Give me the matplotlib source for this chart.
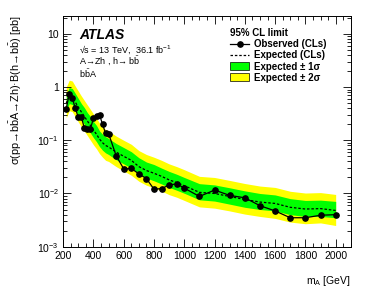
import numpy as np
import matplotlib
matplotlib.use('Agg')
import matplotlib.pyplot as plt
from matplotlib.lines import Line2D
from matplotlib.patches import Patch
from matplotlib.ticker import MultipleLocator, LogLocator, NullFormatter

plt.rcParams['font.family'] = ['Liberation Sans', 'DejaVu Sans']
plt.rcParams['mathtext.fontset'] = 'custom'
plt.rcParams['mathtext.rm'] = 'Liberation Sans'
plt.rcParams['mathtext.it'] = 'Liberation Sans:italic'
plt.rcParams['mathtext.bf'] = 'Liberation Sans:bold'

# mass points (GeV)
mass = [220, 240, 260, 280, 300, 320, 340, 360, 380, 400, 420, 440, 460, 480, 500,
        550, 600, 650, 700, 750, 800, 850, 900, 950, 1000,
        1100, 1200, 1300, 1400, 1500, 1600, 1700, 1800, 1900, 2000]

# observed limit [pb]
observed = [0.39, 0.75, 0.62, 0.40, 0.27, 0.27, 0.17, 0.16, 0.165, 0.26, 0.29, 0.30, 0.20, 0.135, 0.133,
            0.051, 0.029, 0.0295, 0.0234, 0.019, 0.012, 0.0124, 0.0144, 0.0152, 0.0126,
            0.0088, 0.0116, 0.0092, 0.0083, 0.0059, 0.0047, 0.0035, 0.0035, 0.0039, 0.0040]

# expected limit and bands [pb]
expected = [0.50, 0.68, 0.65, 0.52, 0.42, 0.34, 0.28, 0.23, 0.19, 0.155, 0.13, 0.105, 0.09, 0.08, 0.075,
            0.06, 0.05, 0.042, 0.032, 0.027, 0.024, 0.021, 0.018, 0.016, 0.014,
            0.0105, 0.0100, 0.0088, 0.0077, 0.0069, 0.0065, 0.0055, 0.0051, 0.0052, 0.0048]
exp_p1 = [0.73, 0.98, 0.94, 0.76, 0.61, 0.49, 0.41, 0.33, 0.28, 0.225, 0.19, 0.15, 0.13, 0.117, 0.108,
          0.087, 0.073, 0.061, 0.047, 0.039, 0.035, 0.030, 0.026, 0.023, 0.020,
          0.0153, 0.0145, 0.0128, 0.0112, 0.0100, 0.0094, 0.0080, 0.0074, 0.0075, 0.0071]
exp_m1 = [0.36, 0.49, 0.47, 0.37, 0.30, 0.245, 0.20, 0.165, 0.137, 0.112, 0.094, 0.076, 0.065, 0.058, 0.054,
          0.043, 0.036, 0.030, 0.023, 0.0195, 0.0173, 0.0151, 0.013, 0.0115, 0.0101,
          0.0076, 0.0072, 0.0063, 0.0055, 0.0050, 0.0047, 0.0040, 0.0037, 0.0037, 0.0035]
exp_p2 = [1.0, 1.35, 1.3, 1.04, 0.84, 0.68, 0.56, 0.46, 0.38, 0.31, 0.26, 0.21, 0.18, 0.16, 0.15,
          0.12, 0.10, 0.084, 0.064, 0.054, 0.048, 0.042, 0.036, 0.032, 0.028,
          0.021, 0.020, 0.0176, 0.0154, 0.0138, 0.013, 0.011, 0.0102, 0.0104, 0.0096]
exp_m2 = [0.265, 0.36, 0.345, 0.275, 0.22, 0.18, 0.148, 0.122, 0.10, 0.082, 0.069, 0.056, 0.048, 0.042, 0.040,
          0.032, 0.0265, 0.022, 0.017, 0.0143, 0.0127, 0.0111, 0.0095, 0.0085, 0.0074,
          0.0056, 0.0053, 0.0047, 0.0041, 0.0037, 0.0034, 0.0029, 0.0027, 0.0028, 0.0025]

bb = r'b$\bar{\mathrm{b}}$'

fig = plt.figure(figsize=(3.74, 2.96), dpi=100)
ax = fig.add_axes([0.169, 0.1666, 0.769, 0.7804])

ax.fill_between(mass, exp_m2, exp_p2, color='#ffff00', lw=0)
ax.fill_between(mass, exp_m1, exp_p1, color='#00ff00', lw=0)
ax.plot(mass, expected, color='black', ls=(0, (2, 1.5)), lw=0.9)
ax.plot(mass, observed, color='black', lw=0.9, marker='o', ms=3.8)

ax.set_yscale('log')
ax.set_xlim(200, 2100)
ax.set_ylim(1e-3, 22)

ax.xaxis.set_major_locator(MultipleLocator(200))
ax.xaxis.set_minor_locator(MultipleLocator(50))
ax.set_yticks([1e-3, 1e-2, 1e-1, 1, 10],
              labels=['$10^{-3}$', '$10^{-2}$', '$10^{-1}$', '1', '10'])
ax.yaxis.set_minor_locator(LogLocator(base=10, subs=np.arange(2, 10)))
ax.yaxis.set_minor_formatter(NullFormatter())
ax.tick_params(which='both', direction='in', top=True, right=True, labelsize=7.5, width=0.6)
ax.tick_params(which='major', length=6, pad=3)
ax.tick_params(which='minor', length=3)
for s in ax.spines.values():
    s.set_linewidth(0.7)

ax.set_xlabel(r'm$_\mathrm{A}$ [GeV]', fontsize=7.5, loc='right')
ax.set_ylabel('σ(pp→' + bb + 'A→Zh)·B(h→' + bb + ') [pb]', fontsize=7.8, loc='top')
ax.xaxis.set_label_coords(1.0, -0.12)
ax.yaxis.set_label_coords(-0.135, 1.0)

fig.text(0.211, 0.868, 'ATLAS', fontsize=10, fontweight='bold', fontstyle='italic')
fig.text(0.211, 0.822, '√s = 13 TeV,  36.1 fb$^{-1}$', fontsize=6.5)
fig.text(0.211, 0.780, 'A→Zh , h→ ' + bb, fontsize=6.5)
fig.text(0.211, 0.738, bb + 'A', fontsize=6.5)

handles = [Line2D([], [], color='black', lw=0.9, marker='o', ms=3.8),
           Line2D([], [], color='black', ls=(0, (2, 1.5)), lw=0.9),
           Patch(facecolor='#00ff00', edgecolor='black', lw=0.5),
           Patch(facecolor='#ffff00', edgecolor='black', lw=0.5)]
labels = ['Observed (CLs)', 'Expected (CLs)', 'Expected ± 1σ', 'Expected ± 2σ']
leg = fig.legend(handles, labels, loc='upper left', bbox_to_anchor=(0.615, 0.905),
                 frameon=False, prop={'weight': 'bold', 'size': 7},
                 title='95% CL limit', title_fontproperties={'weight': 'bold', 'size': 7},
                 handlelength=2.0, handleheight=0.9, handletextpad=0.45,
                 labelspacing=0.12, borderpad=0.0, borderaxespad=0.0)
leg._legend_box.align = 'left'

fig.savefig('out.png', dpi=100)
